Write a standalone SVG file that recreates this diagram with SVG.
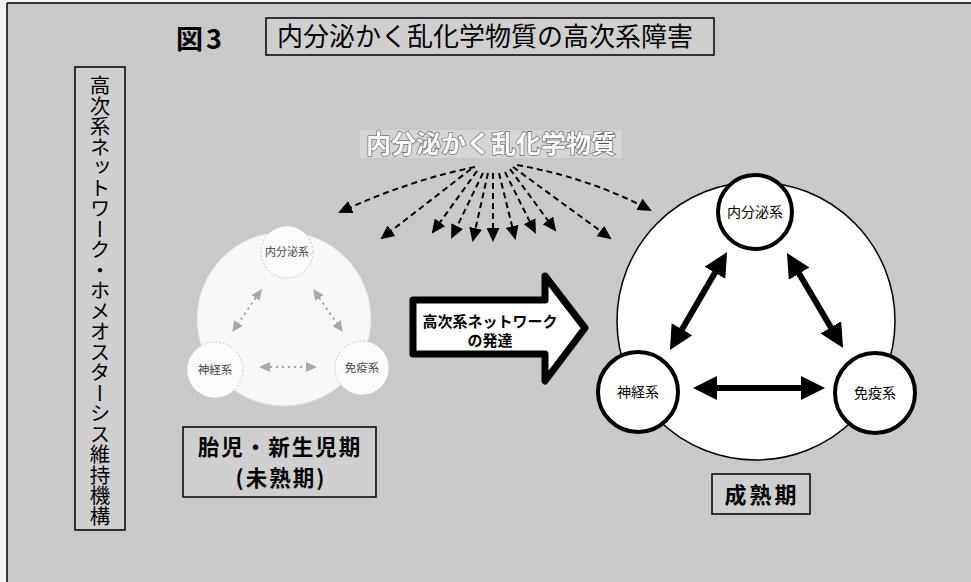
<svg xmlns="http://www.w3.org/2000/svg" width="971" height="582" viewBox="0 0 971 582">
<defs>
<style>
.t{font-family:"Noto Sans CJK JP","Noto Sans CJK SC",sans-serif;fill:#000}
.box{fill:#cfcfcf;stroke:#000;stroke-width:1.5}
.fan{fill:none;stroke:#000;stroke-width:2;stroke-dasharray:6 4;marker-end:url(#fh)}
.thick{fill:none;stroke:#000;stroke-width:6;marker-start:url(#th);marker-end:url(#th)}
.faint{fill:none;stroke:#8a8a8a;stroke-width:1.6;stroke-dasharray:2 4;marker-start:url(#gh);marker-end:url(#gh)}
.sc{fill:#fff;stroke:#000;stroke-width:4}
.fc{fill:#fbfbfb;stroke:#c4c4c4;stroke-width:1;stroke-dasharray:2 2}
</style>
<marker id="fh" markerUnits="userSpaceOnUse" markerWidth="15" markerHeight="13" refX="12" refY="6.5" orient="auto"><path d="M0,0 L14,6.5 L0,13 Z" fill="#000"/></marker>
<marker id="th" markerUnits="userSpaceOnUse" markerWidth="26" markerHeight="24" refX="6" refY="12" orient="auto-start-reverse"><path d="M0,0 L24,12 L0,24 Z" fill="#000"/></marker>
<marker id="gh" markerUnits="userSpaceOnUse" markerWidth="12" markerHeight="12" refX="6" refY="6" orient="auto-start-reverse"><path d="M0,1 L11,6 L0,11 Z" fill="#a8a8a8"/></marker>
</defs>
<rect x="0" y="0" width="971" height="582" fill="#f2f2f2"/>
<rect x="7" y="3" width="964" height="579" fill="#c9c9c9"/>
<line x1="7" y1="3" x2="971" y2="3" stroke="#000" stroke-width="1.5"/>
<line x1="7" y1="3" x2="7" y2="582" stroke="#000" stroke-width="1.5"/>

<g id="title">
<text class="t" x="176" y="49" font-size="27" font-weight="bold" letter-spacing="3">図3</text>
<rect class="box" x="266" y="18" width="448" height="37"/>
<text class="t" x="277" y="46" font-size="26">内分泌かく乱化学物質の高次系障害</text>
</g>

<g id="side-label">
<rect class="box" x="75" y="67" width="50" height="463"/>
<text class="t" x="100" y="75" font-size="20.5" style="writing-mode:vertical-rl">高次系ネットワーク・ホメオスターシス維持機構</text>
</g>

<g id="chemical">
<rect x="360" y="130" width="262" height="28" fill="#d6d6d6"/>
<text class="t" x="491" y="153" font-size="25" font-weight="bold" text-anchor="middle" style="fill:#fff;stroke:#555;stroke-width:1.2;paint-order:stroke">内分泌かく乱化学物質</text>
</g>

<g id="connectors">
<path class="fan" d="M475,167 Q410,180 340,212"/>
<path class="fan" d="M471,169 L382,238"/>
<path class="fan" d="M477,171 L433,232"/>
<path class="fan" d="M483,173 L452,237"/>
<path class="fan" d="M488,173 L473,240"/>
<path class="fan" d="M493,173 L493,240"/>
<path class="fan" d="M499,173 L515,238"/>
<path class="fan" d="M505,172 L535,232"/>
<path class="fan" d="M510,169 L555,230"/>
<path class="fan" d="M513,167 L610,238"/>
<path class="fan" d="M517,165 Q590,178 650,210"/>
</g>

<g id="immature">
<circle cx="284" cy="319" r="87" fill="#f7f7f7" stroke="#dedede" stroke-width="1"/>
<g id="imm-endocrine"><circle class="fc" cx="287" cy="252" r="26"/><text class="t" x="287" y="256" font-size="11" text-anchor="middle" style="fill:#444">内分泌系</text></g>
<g id="imm-nerve"><circle class="fc" cx="215" cy="370" r="28"/><text class="t" x="215" y="374" font-size="11.5" text-anchor="middle" style="fill:#444">神経系</text></g>
<g id="imm-immune"><circle class="fc" cx="362" cy="368" r="27"/><text class="t" x="362" y="372" font-size="11.5" text-anchor="middle" style="fill:#444">免疫系</text></g>
<g id="imm-connectors">
<path class="faint" d="M259,293 L235,328"/>
<path class="faint" d="M316,293 L340,328"/>
<path class="faint" d="M264,367 L312,367"/>
</g>
</g>

<g id="big-arrow">
<polygon points="413,300 545,300 545,276 585,328 545,381 545,354 413,354" fill="#fff" stroke="#000" stroke-width="7" stroke-linejoin="round"/>
<text class="t" x="490" y="327" font-size="15" font-weight="bold" text-anchor="middle">高次系ネットワーク</text>
<text class="t" x="490" y="346" font-size="15" font-weight="bold" text-anchor="middle">の発達</text>
</g>

<g id="mature">
<circle cx="756" cy="321" r="139" fill="#fff" stroke="#000" stroke-width="1.5"/>
<g id="mat-connectors">
<path class="thick" d="M718,267.6 L679,334.4"/>
<path class="thick" d="M796.1,268.5 L833.9,332.5"/>
<path class="thick" d="M711,388 L807,388"/>
</g>
<g id="mat-endocrine"><circle class="sc" cx="755" cy="212" r="37"/><text class="t" x="755" y="217" font-size="14" text-anchor="middle">内分泌系</text></g>
<g id="mat-nerve"><circle class="sc" cx="638" cy="392" r="40"/><text class="t" x="638" y="397" font-size="14" text-anchor="middle">神経系</text></g>
<g id="mat-immune"><circle class="sc" cx="875" cy="393" r="40"/><text class="t" x="875" y="398" font-size="14" text-anchor="middle">免疫系</text></g>
</g>

<g id="label-immature">
<rect class="box" x="183" y="427" width="193" height="70"/>
<text class="t" x="280" y="455" font-size="21.5" font-weight="bold" text-anchor="middle" letter-spacing="2">胎児・新生児期</text>
<text class="t" x="281" y="486" font-size="21.5" font-weight="bold" text-anchor="middle" letter-spacing="2">(未熟期)</text>
</g>

<g id="label-mature">
<rect class="box" x="712" y="474" width="98" height="40"/>
<text class="t" x="762" y="503" font-size="22" font-weight="bold" text-anchor="middle" letter-spacing="3">成熟期</text>
</g>
</svg>
